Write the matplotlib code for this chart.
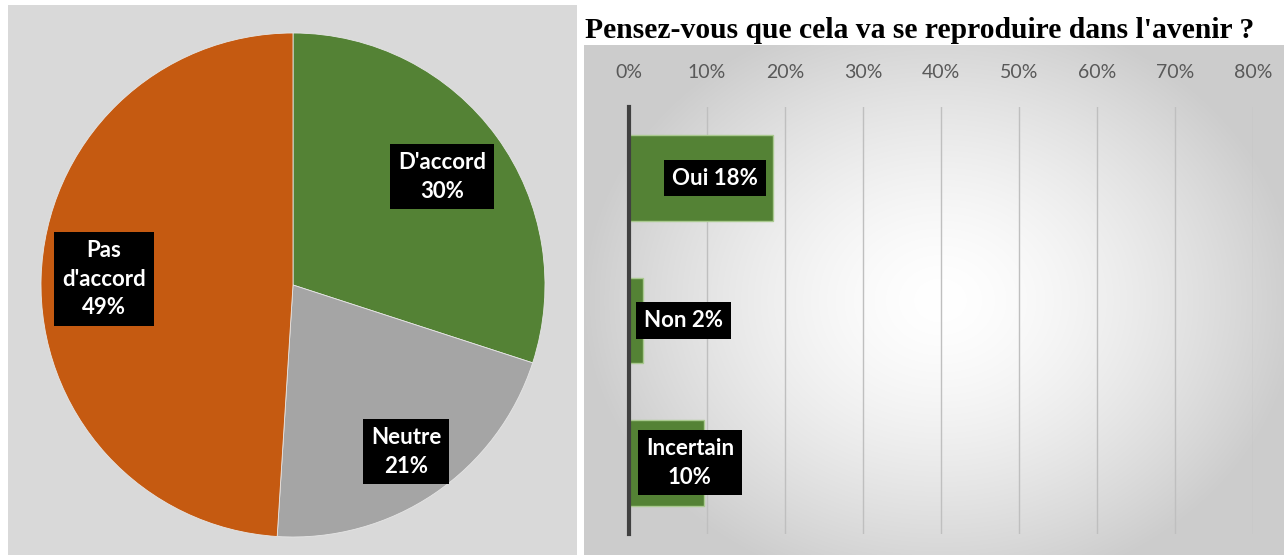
import matplotlib.pyplot as plt
import numpy as np
from matplotlib.patches import Rectangle

# pie data
pie_labels = ["D'accord", "Neutre", "Pas\nd'accord"]
pie_values = [30, 21, 49]
pie_colors = ['#548235', '#a5a5a5', '#c55a11']

# bar data
bar_cats = ['Oui', 'Non', 'Incertain']
bar_values = [18.4, 1.8, 9.6]
bar_texts = ['Oui 18%', 'Non 2%', 'Incertain\n10%']
xticks = [0, 10, 20, 30, 40, 50, 60, 70, 80]
title2 = "Pensez-vous que cela va se reproduire dans l'avenir ?"

W, H = 1284, 555
fig = plt.figure(figsize=(W / 100, H / 100), dpi=100)
fig.patch.set_facecolor('white')

def box(x0, y0, x1, y1):
    # pixel box (top-left origin) -> figure fraction
    return [x0 / W, (H - y1) / H, (x1 - x0) / W, (y1 - y0) / H]

# left panel background
fig.add_artist(Rectangle((8 / W, 0), 569 / W, 550 / H, transform=fig.transFigure,
                         facecolor='#d9d9d9', edgecolor='none', zorder=-5))

# pie
cx, cy, r = 293, 285, 252
axp = fig.add_axes(box(cx - r, cy - r, cx + r, cy + r))
axp.set_zorder(2)
wedges, _ = axp.pie(pie_values, colors=pie_colors, startangle=90, counterclock=False,
                    wedgeprops=dict(edgecolor='#e6e6e6', linewidth=0.6))
axp.set_xlim(-1, 1)
axp.set_ylim(-1, 1)
axp.set_aspect('equal')
axp.axis('off')
label_r = [0.73, 0.80, 0.75]
lab_font = {'family': 'Lato', 'weight': 'bold', 'size': 16}
for w, lab, v, rr in zip(wedges, pie_labels, pie_values, label_r):
    ang = np.deg2rad((w.theta1 + w.theta2) / 2)
    axp.text(rr * np.cos(ang), rr * np.sin(ang), f"{lab}\n{v}%", ha='center', va='center',
             color='white', linespacing=1.45, fontdict=lab_font,
             bbox=dict(boxstyle='square,pad=0.35', facecolor='black', edgecolor='none'))

# right panel gradient background
gx0, gy0, gx1, gy1 = 584, 45, 1284, 555
axg = fig.add_axes(box(gx0, gy0, gx1, gy1))
yy, xx = np.mgrid[0:gy1 - gy0, 0:gx1 - gx0]
dn = np.sqrt(((xx - 356) / 360.0) ** 2 + ((yy - 255) / 300.0) ** 2)
v = 1 - 0.2 * np.clip(dn, 0, 1.0) ** 1.5
axg.imshow(np.dstack([v, v, v]), aspect='auto', interpolation='bilinear')
axg.axis('off')

fig.text(585 / W, 1 - 30 / H, title2, family='Liberation Serif', weight='bold',
         fontsize=21.3, ha='left', va='center')

# bars
axb = fig.add_axes(box(629, 107, 1253, 534))
axb.set_zorder(3)
axb.patch.set_alpha(0)
y = np.arange(len(bar_cats))
axb.barh(y, bar_values, height=0.6, color='#548235', edgecolor='#a9c98f', linewidth=1, zorder=3)
axb.set_xlim(0, 80)
axb.set_ylim(2.5, -0.5)
axb.xaxis.tick_top()
axb.set_xticks(xticks)
axb.set_xticklabels([f"{t}%" for t in xticks], family='Lato', fontsize=14, color='#595959')
axb.tick_params(axis='x', length=0, pad=19)
axb.set_yticks([])
axb.grid(axis='x', color='#bfbfbf', linewidth=1, zorder=1)
for s in ['top', 'right', 'bottom']:
    axb.spines[s].set_visible(False)
axb.spines['left'].set_color('#404040')
axb.spines['left'].set_linewidth(3)
axb.spines['left'].set_zorder(4)

label_x = [11.0, 7.0, 7.8]
for yi, t, lx in zip(y, bar_texts, label_x):
    axb.text(lx, yi, t, ha='center', va='center', color='white', linespacing=1.45,
             fontdict=lab_font, zorder=5,
             bbox=dict(boxstyle='square,pad=0.35', facecolor='black', edgecolor='none'))

fig.savefig('out.png', dpi=100)
